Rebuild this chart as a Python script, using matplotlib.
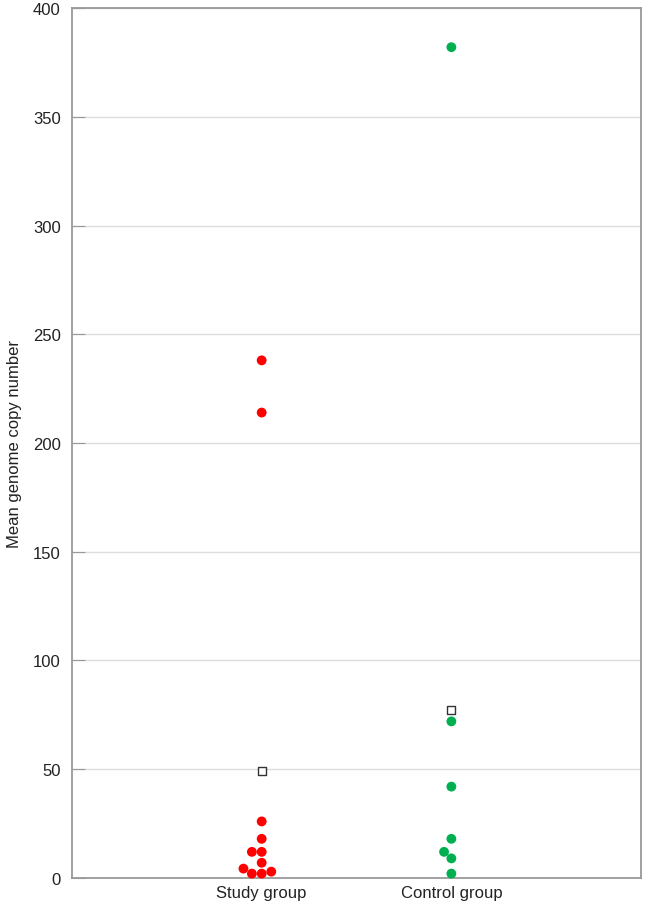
import matplotlib
matplotlib.use('Agg')
import matplotlib.pyplot as plt
import numpy as np

plt.rcParams['font.family'] = ['Liberation Sans', 'DejaVu Sans']

groups = ["Study group", "Control group"]
study_values = [238, 214, 26, 18, 12, 12, 7, 4.3, 2.9, 2, 2]
control_values = [382, 72, 42, 18, 12, 9, 2]
mean_values = [49, 77]
colors = ["#ff0000", "#00b050"]


def swarm_offsets(values, px_per_x, px_per_y, diam):
    # place points bottom-up at the nearest sideways spot touching earlier ones
    order = np.argsort(values, kind='stable')
    placed = []
    offsets = np.zeros(len(values))
    for i in order:
        y = values[i] * px_per_y
        cands = [0.0]
        for px, py in placed:
            dy = abs(y - py)
            if dy < diam:
                dx = np.sqrt(diam ** 2 - dy ** 2)
                cands += [px + dx, px - dx]
        cands.sort(key=lambda c: (abs(c), c))
        for c in cands:
            if all((c - px) ** 2 + (y - py) ** 2 >= diam ** 2 - 1e-6 for px, py in placed):
                break
        placed.append((c, y))
        offsets[i] = c / px_per_x
    return offsets


fig = plt.figure(figsize=(6.45, 9.04), dpi=100)
ax = fig.add_axes([0.1116, 0.0277, 0.8823, 0.9623])

ax.set_xlim(0, 3)
ax.set_ylim(0, 400)

# pixel scale of the axes, used for swarm layout
px_x = 569 / 3
px_y = 871 / 400
diam = 9.8

for i, vals in enumerate([study_values, control_values]):
    vals = np.array(vals, dtype=float)
    off = swarm_offsets(vals, px_x, px_y, diam)
    ax.scatter(i + 1 + off, vals, s=50, color=colors[i], edgecolors='none',
               zorder=3, clip_on=False)
    ax.scatter([i + 1], [mean_values[i]], marker='s', s=40, facecolors='white',
               edgecolors='#333333', linewidths=1.0, zorder=4)

ax.set_xticks([1, 2])
ax.set_xticklabels(groups)
ax.set_yticks(np.arange(0, 401, 50))
ax.yaxis.grid(True, color='#dddddd', linewidth=1)
ax.set_axisbelow(True)
ax.tick_params(axis='y', direction='in', length=9, color='#999999', labelsize=12, pad=8)
ax.tick_params(axis='x', length=0, labelsize=12, pad=5)
for lbl in ax.get_xticklabels() + ax.get_yticklabels():
    lbl.set_color('#222222')
for sp in ax.spines.values():
    sp.set_color('#999999')
    sp.set_linewidth(1.3)

ax.set_ylabel("Mean genome copy number", fontsize=12, color='#222222', labelpad=8)

fig.savefig("out.png", dpi=100)
